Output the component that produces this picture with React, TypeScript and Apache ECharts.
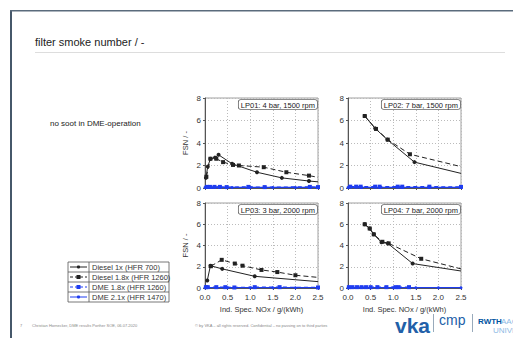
import React, { useEffect, useRef } from "react";
import * as echarts from "echarts";

// ---------- data ----------
const plotTitles = ["LP01: 4 bar, 1500 rpm", "LP02: 7 bar, 1500 rpm", "LP03: 3 bar, 2000 rpm", "LP04: 7 bar, 2000 rpm"];
const seriesNames = ["Diesel 1x (HFR 700)", "Diesel 1.8x (HFR 1260)", "DME 1.8x (HFR 1260)", "DME 2.1x (HFR 1470)"];
const xTicks = [0, 0.5, 1.0, 1.5, 2.0, 2.5];
const yTicks = [0, 2, 4, 6, 8];

// LP01
const lp01Diesel1x = [[0.02, 0.9], [0.06, 1.9], [0.12, 2.6], [0.22, 2.7], [0.3, 2.95], [0.6, 2.15], [1.15, 1.4], [1.7, 0.9], [2.3, 0.62], [2.5, 0.55]];
const lp01Diesel18x = [[0.03, 1.0], [0.12, 2.6], [0.25, 2.6], [0.4, 2.3], [0.62, 2.05], [0.75, 2.0], [1.3, 1.85], [1.8, 1.4], [2.3, 1.1], [2.5, 0.95]];
const lp01Dme18x = [[0.04, 0.1], [0.11, 0.1], [0.21, 0.1], [0.33, 0.1], [0.48, 0.08], [0.96, 0.1], [1.32, 0.08], [2.32, 0.1], [2.5, 0.08]];
const lp01Dme21x = [[0.0, 0.05], [0.06, 0.06], [0.15, 0.05], [0.3, 0.06], [0.6, 0.05], [1.0, 0.05], [1.5, 0.05], [2.0, 0.05], [2.5, 0.05]];
// LP02
const lp02Diesel1x = [[0.37, 6.4], [0.6, 5.3], [0.87, 4.3], [1.47, 2.3], [2.5, 1.3]];
const lp02Diesel18x = [[0.37, 6.4], [0.62, 5.25], [0.88, 4.3], [1.37, 3.0], [2.5, 1.9]];
const lp02Dme18x = [[0.05, 0.12], [0.18, 0.12], [0.28, 0.12], [0.6, 0.12], [0.7, 0.12], [1.1, 0.12], [1.2, 0.12], [1.8, 0.12], [2.5, 0.1]];
const lp02Dme21x = [[0.0, 0.05], [0.3, 0.05], [0.7, 0.05], [1.2, 0.05], [1.8, 0.05], [2.5, 0.05]];
// LP03
const lp03Diesel1x = [[0.05, 0.7], [0.12, 2.1], [0.38, 1.8], [1.1, 1.1], [2.5, 0.6]];
const lp03Diesel18x = [[0.13, 2.05], [0.37, 2.65], [0.66, 2.3], [0.83, 2.1], [1.25, 1.7], [1.6, 1.5], [2.0, 1.2], [2.5, 1.0]];
const lp03Dme18x = [[0.02, 0.08], [0.06, 0.08], [0.25, 0.08], [0.45, 0.08], [0.65, 0.05], [1.1, 0.08], [1.65, 0.08], [2.5, 0.05]];
const lp03Dme21x = [[0.0, 0.03], [0.5, 0.03], [1.0, 0.03], [1.5, 0.03], [2.0, 0.03], [2.5, 0.03]];
// LP04
const lp04Diesel1x = [[0.37, 6.0], [0.48, 5.6], [0.57, 5.05], [0.74, 4.3], [0.88, 4.2], [1.43, 2.3], [2.5, 1.6]];
const lp04Diesel18x = [[0.37, 6.0], [0.48, 5.6], [0.57, 5.05], [0.76, 4.35], [0.9, 4.2], [1.62, 2.75], [2.5, 1.8]];
const lp04Dme18x = [[0.02, 0.08], [0.1, 0.08], [0.2, 0.08], [0.3, 0.08], [0.4, 0.08], [0.5, 0.08], [0.65, 0.08], [0.85, 0.08], [1.05, 0.08], [1.12, 0.08], [1.35, 0.08]];
const lp04Dme21x = [[0.0, 0.03], [0.5, 0.03], [1.0, 0.03], [1.5, 0.03], [2.0, 0.03], [2.5, 0.03]];

const plotData = [
  [lp01Diesel1x, lp01Diesel18x, lp01Dme18x, lp01Dme21x],
  [lp02Diesel1x, lp02Diesel18x, lp02Dme18x, lp02Dme21x],
  [lp03Diesel1x, lp03Diesel18x, lp03Dme18x, lp03Dme21x],
  [lp04Diesel1x, lp04Diesel18x, lp04Dme18x, lp04Dme21x],
];

const FONT = "Liberation Sans, Arial, sans-serif";
const BLUE = "#1e3cf0";
const styles = [
  { color: "#222", type: "solid", symbol: "circle", size: 4 },
  { color: "#222", type: [5, 3], symbol: "rect", size: 4 },
  { color: BLUE, type: [4, 3], symbol: "rect", size: 4 },
  { color: BLUE, type: "solid", symbol: "circle", size: 3 },
];

const grids = [
  { left: 205, top: 98, width: 113, height: 90 },
  { left: 348, top: 98, width: 113, height: 90 },
  { left: 205, top: 203, width: 113, height: 85 },
  { left: 348, top: 203, width: 113, height: 85 },
];

export default function App() {
  const ref = useRef<HTMLDivElement>(null);
  useEffect(() => {
    document.body.style.margin = "0";
    const chart = echarts.init(ref.current!, null, { renderer: "svg" });

    const xAxes = grids.map((_, i) => ({
      type: "value",
      gridIndex: i,
      min: 0,
      max: 2.5,
      interval: 0.5,
      axisLine: { show: true, lineStyle: { color: "#555", width: 1 } },
      axisTick: { show: true, length: 2, inside: false, lineStyle: { color: "#555" } },
      axisLabel: {
        show: i >= 2,
        fontSize: 8,
        color: "#333",
        fontFamily: FONT,
        margin: 5,
        formatter: (v: number) => (xTicks.includes(v) ? v.toFixed(1) : ""),
      },
      splitLine: { show: true, lineStyle: { color: "#bbb", type: [1, 2], width: 1 } },
      name: i >= 2 ? "Ind. Spec. NOx / g/(kWh)" : "",
      nameLocation: "middle",
      nameGap: 17,
      nameTextStyle: { fontSize: 7.5, color: "#333", fontFamily: FONT },
    }));
    const yAxes = grids.map((_, i) => ({
      type: "value",
      gridIndex: i,
      min: 0,
      max: 8,
      interval: 2,
      axisLine: { show: true, lineStyle: { color: "#555", width: 1 } },
      axisTick: { show: true, length: 2, lineStyle: { color: "#555" } },
      axisLabel: {
        fontSize: 8,
        color: "#333",
        fontFamily: FONT,
        margin: 4,
        formatter: (v: number) => (yTicks.includes(v) ? String(v) : ""),
      },
      splitLine: { show: true, lineStyle: { color: "#bbb", type: [1, 2], width: 1 } },
      name: i % 2 === 0 ? "FSN / -" : "",
      nameLocation: "middle",
      nameGap: 16,
      nameRotate: 90,
      nameTextStyle: { fontSize: 7.5, color: "#333", fontFamily: FONT },
    }));

    const series: any[] = [];
    plotData.forEach((set, gi) => {
      set.forEach((pts, si) => {
        const st = styles[si];
        series.push({
          type: "line",
          name: seriesNames[si],
          xAxisIndex: gi,
          yAxisIndex: gi,
          data: pts.map((p) =>
            p[0] >= 2.5 && si < 2 ? { value: p, symbol: "none" } : { value: p }
          ),
          symbol: st.symbol,
          symbolSize: st.size,
          showSymbol: true,
          lineStyle: { color: st.color, type: st.type, width: si >= 2 ? 1.2 : 1 },
          itemStyle: { color: st.color },
          clip: true,
          z: 10 - si,
        });
      });
    });

    const graphics: any[] = [];
    // slide frame
    graphics.push({ type: "rect", shape: { x: 10, y: 10, width: 2, height: 328 }, style: { fill: "#46586a" } });
    graphics.push({ type: "rect", shape: { x: 10, y: 10, width: 503, height: 1.5 }, style: { fill: "#5a6b7c" } });
    graphics.push({
      type: "text",
      style: { text: "filter smoke number / -", x: 35, y: 36, font: `11px ${FONT}`, fill: "#222" },
    });
    graphics.push({ type: "line", shape: { x1: 35, y1: 52.5, x2: 505, y2: 52.5 }, style: { stroke: "#ddd", lineWidth: 1 } });
    graphics.push({
      type: "text",
      style: { text: "no soot in DME-operation", x: 50, y: 119, font: `8px ${FONT}`, fill: "#222" },
    });
    // plot annotation boxes
    grids.forEach((g, i) => {
      graphics.push({
        type: "text",
        z: 100,
        style: {
          text: plotTitles[i],
          x: g.left + g.width - 1,
          y: g.top + 2,
          align: "right",
          font: `7.5px ${FONT}`,
          fill: "#222",
          backgroundColor: "#fff",
          borderColor: "#666",
          borderWidth: 0.8,
          borderRadius: 2,
          padding: [1, 2, 0, 2],
        },
      });
    });
    // legend table
    const lx = 68, ly = 262, lw = 101, rh = 10, cw = 21;
    graphics.push({ type: "rect", shape: { x: lx, y: ly, width: lw, height: rh * 4 }, style: { fill: "#fff", stroke: "#555", lineWidth: 0.8 } });
    graphics.push({ type: "line", shape: { x1: lx + cw, y1: ly, x2: lx + cw, y2: ly + rh * 4 }, style: { stroke: "#555", lineWidth: 0.8 } });
    for (let r = 1; r < 4; r++) {
      graphics.push({ type: "line", shape: { x1: lx, y1: ly + r * rh, x2: lx + lw, y2: ly + r * rh }, style: { stroke: "#555", lineWidth: 0.8 } });
    }
    seriesNames.forEach((nm, r) => {
      const cy = ly + r * rh + rh / 2;
      const st = styles[r];
      graphics.push({
        type: "line",
        shape: { x1: lx + 2, y1: cy, x2: lx + cw - 2, y2: cy },
        style: { stroke: st.color, lineWidth: 1, lineDash: st.type === "solid" ? null : [3, 2] },
      });
      if (st.symbol === "rect") {
        graphics.push({ type: "rect", shape: { x: lx + cw / 2 - 2, y: cy - 2, width: 4, height: 4 }, style: { fill: st.color } });
      } else {
        graphics.push({ type: "circle", shape: { cx: lx + cw / 2, cy, r: 1.6 }, style: { fill: st.color } });
      }
      graphics.push({
        type: "text",
        style: { text: nm, x: lx + cw + 3, y: cy, verticalAlign: "middle", font: `7.5px ${FONT}`, fill: "#333" },
      });
    });
    // footer
    graphics.push({ type: "text", style: { text: "7", x: 20, y: 323, font: `4px ${FONT}`, fill: "#888" } });
    graphics.push({ type: "text", style: { text: "Christian Hornecker, DME results Porther SOE, 06.07.2020", x: 32, y: 323, font: `4px ${FONT}`, fill: "#888" } });
    graphics.push({ type: "text", style: { text: "© by VKA – all rights reserved. Confidential – no passing on to third parties", x: 195, y: 323, font: `4px ${FONT}`, fill: "#888" } });
    // logos
    graphics.push({ type: "text", style: { text: "vka", x: 395, y: 315, font: `bold 21px ${FONT}`, fill: "#2160a8" } });
    graphics.push({ type: "rect", shape: { x: 433, y: 314, width: 1, height: 18 }, style: { fill: "#9ab" } });
    graphics.push({ type: "text", style: { text: "cmp", x: 439, y: 313, font: `14px ${FONT}`, fill: "#2160a8" } });
    graphics.push({ type: "rect", shape: { x: 472, y: 314, width: 1, height: 18 }, style: { fill: "#9ab" } });
    graphics.push({ type: "text", style: { text: "RWTH", x: 478, y: 317, font: `bold 8px ${FONT}`, fill: "#00549f" } });
    graphics.push({ type: "text", style: { text: "AACHEN", x: 501, y: 317, font: `8px ${FONT}`, fill: "#8ebae5" } });
    graphics.push({ type: "text", style: { text: "UNIVERSITY", x: 493, y: 326, font: `8px ${FONT}`, fill: "#8ebae5" } });

    chart.setOption({
      animation: false,
      backgroundColor: "#fff",
      grid: grids.map((g) => ({ ...g, show: true, borderColor: "#888", borderWidth: 0.8, backgroundColor: "transparent" })),
      xAxis: xAxes,
      yAxis: yAxes,
      series,
      graphic: graphics,
    });
    return () => chart.dispose();
  }, []);
  return <div ref={ref} style={{ width: 513, height: 338 }} />;
}
